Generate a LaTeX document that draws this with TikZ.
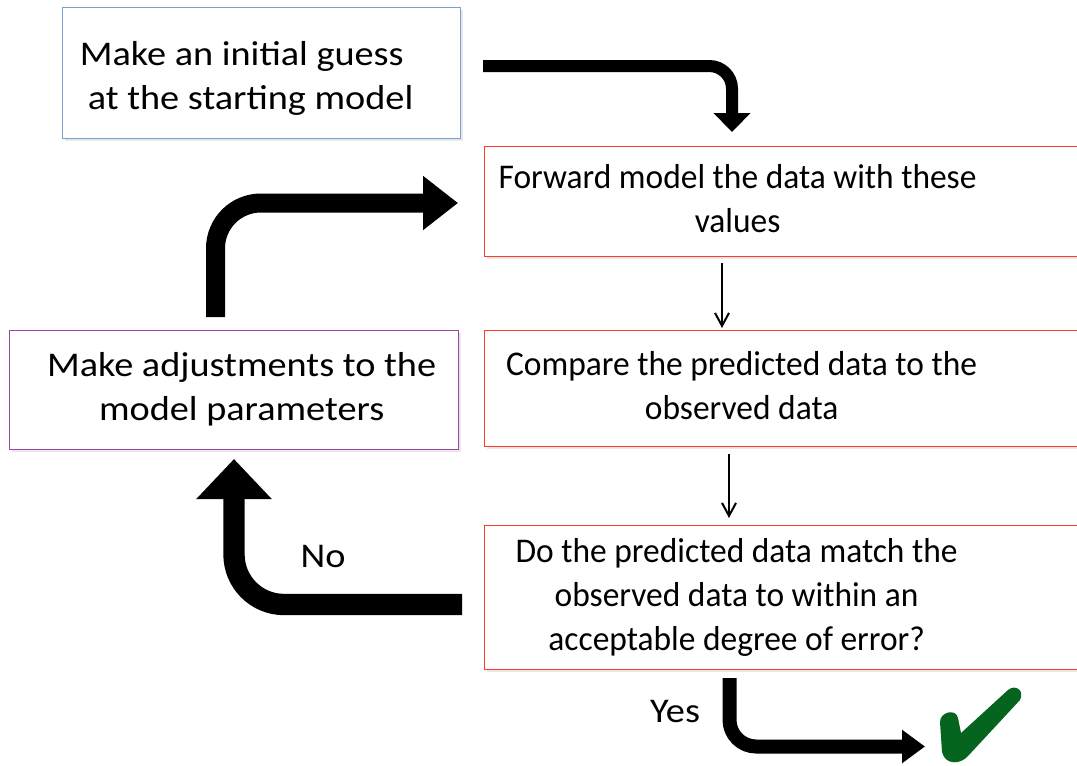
\documentclass[tikz,border=0pt]{standalone}
\usepackage{fontspec}
\setmainfont{Carlito}
\newfontfamily\widefont[FakeStretch=1.104]{Carlito}
\newfontfamily\narrowfont[FakeStretch=0.965]{Carlito}
\usetikzlibrary{arrows.meta,shadows}
\definecolor{boxblue}{RGB}{120,160,210}
\definecolor{boxred}{RGB}{250,60,40}
\definecolor{boxpurple}{RGB}{155,70,165}
\definecolor{checkgreen}{RGB}{5,100,30}
\newcommand{\mytab}[1]{\begin{tabular}[t]{@{}c@{}}#1\end{tabular}}
\newcommand{\mytabl}[1]{\begin{tabular}[t]{@{}l@{}}#1\end{tabular}}
\begin{document}
\begin{tikzpicture}[x=0.75pt,y=-0.75pt,
  flowbox/.style={rectangle, draw, fill=white, line width=0.9pt, inner sep=0pt,
    anchor=north west, font=\narrowfont\fontsize{26pt}{33pt}\selectfont,
    drop shadow={opacity=0.18, shadow xshift=1.5pt, shadow yshift=-1.5pt}},
  bigtext/.style={font=\widefont\fontsize{26pt}{33pt}\selectfont},
  lbl/.style={font=\widefont\fontsize{26pt}{33pt}\selectfont, anchor=base, inner sep=0pt},
  thinarrow/.style={draw=black, line width=1.5pt, -{Straight Barb[length=9.75pt,width=10.5pt]}}
]
\useasboundingbox (0,0) rectangle (1077,765);

\node[flowbox, bigtext, draw=boxblue, minimum width=298.5pt, minimum height=98.25pt,
      text height=27.4pt, text depth=38.6pt] (guess) at (62,7)
  {\mytabl{Make an initial guess\\\hspace*{6pt}at the starting model}\hspace*{22.5pt}};
\node[flowbox, draw=boxred, minimum width=454.5pt, minimum height=82.5pt] (forward) at (484,146)
  {\mytab{Forward model the data with these\\values}\hspace*{75pt}};
\node[flowbox, draw=boxred, minimum width=454.5pt, minimum height=87pt] (compare) at (484,330)
  {\mytab{Compare the predicted data to the\\observed data}\hspace*{69pt}};
\node[flowbox, bigtext, draw=boxpurple, minimum width=336.75pt, minimum height=89.25pt] (adjust) at (9,330)
  {\hspace*{11.25pt}\mytab{Make adjustments to the\\model parameters}};
\node[flowbox, draw=boxred, minimum width=454.5pt, minimum height=108pt] (match) at (484,525)
  {\mytab{Do the predicted data match the\\observed data to within an\\acceptable degree of error?}\hspace*{76.5pt}};

% block arrows
\coordinate (a1) at (483,66);
\coordinate (a2) at (732,132);
\draw[line width=9pt, rounded corners=17pt, -{Triangle[width=27pt,length=14.25pt]}] (a1) -| (a2);

\coordinate (b1) at (215.5,317);
\coordinate (b2) at (458,203);
\draw[line width=14.25pt, rounded corners=34pt, -{Triangle[width=39pt,length=26.25pt]}] (b1) |- (b2);

\coordinate (c1) at (462,604.5);
\coordinate (c2) at (234,459);
\draw[line width=16pt, rounded corners=37.5pt, -{Triangle[width=54.75pt,length=30pt]}] (c1) -| (c2);

\coordinate (d1) at (729.5,678);
\coordinate (d2) at (925,746.5);
\draw[line width=10.5pt, rounded corners=20pt, -{Triangle[width=24pt,length=17.25pt]}] (d1) |- (d2);

% thin arrows
\coordinate (t1) at (722,0);
\coordinate (t2) at (729,0);
\draw[thinarrow, shorten <=4.5pt, shorten >=1.5pt] (forward.south -| t1) -- (compare.north -| t1);
\draw[thinarrow, shorten <=5.25pt, shorten >=5.25pt] (compare.south -| t2) -- (match.north -| t2);

% labels
\node[lbl] (no) at (323,567) {No};
\node[lbl] (yes) at (675,722) {Yes};

% check mark
\fill[checkgreen] (940,722) .. controls (940,712) and (956,708) .. (958,718)
  -- (961,733) -- (1008,690) .. controls (1015,684) and (1025,690) .. (1020,700)
  -- (968,756) .. controls (960,765) and (945,765) .. (942,752) -- cycle;
\end{tikzpicture}
\end{document}
